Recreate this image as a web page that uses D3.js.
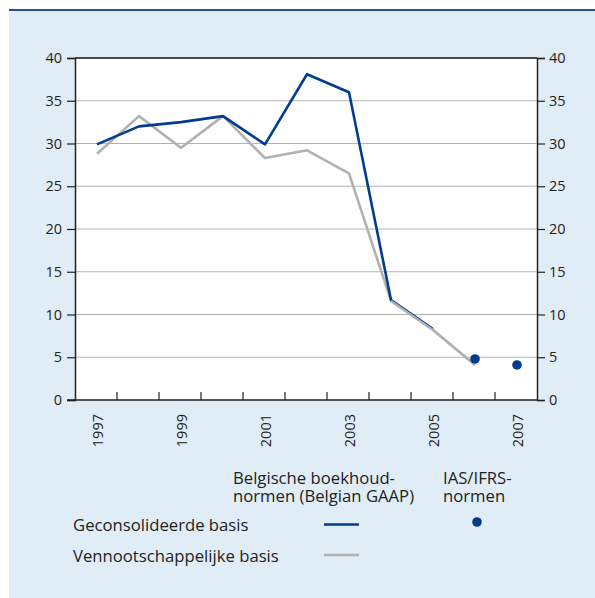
<!DOCTYPE html>
<html>
<head>
<meta charset="utf-8">
<script src="https://cdn.jsdelivr.net/npm/d3@7"></script>
<style>
  html, body { margin: 0; padding: 0; background: #ffffff; }
  svg { display: block; }
  text { font-family: "Open Sans", "Noto Sans", sans-serif; fill: #222; }
</style>
</head>
<body>
<script>
// Years on the horizontal axis
const years = [1997, 1998, 1999, 2000, 2001, 2002, 2003, 2004, 2005, 2006, 2007];
const yearLabels = [1997, 1999, 2001, 2003, 2005, 2007];
const yTicks = [0, 5, 10, 15, 20, 25, 30, 35, 40];

// Belgian GAAP, consolidated basis (1997–2005)
const consolidatedYears = [1997, 1998, 1999, 2000, 2001, 2002, 2003, 2004, 2005];
const consolidated = [29.9, 32.0, 32.5, 33.2, 29.9, 38.1, 36.0, 11.7, 8.3];

// Belgian GAAP, company (non-consolidated) basis (1997–2006)
const companyYears = [1997, 1998, 1999, 2000, 2001, 2002, 2003, 2004, 2005, 2006];
const company = [28.8, 33.2, 29.5, 33.2, 28.3, 29.2, 26.5, 11.6, 8.2, 4.1];

// IAS/IFRS, consolidated basis
const ifrsYears = [2006, 2007];
const ifrs = [4.8, 4.1];

const W = 595, H = 598;
const BLUE = "#003d8c", GREY = "#b1b1b1";

const svg = d3.select("body").append("svg").attr("width", W).attr("height", H);

// Panel background and top rule
svg.append("rect").attr("x", 9).attr("y", 10).attr("width", W - 9).attr("height", H - 10).attr("fill", "#e1edf6");
svg.append("rect").attr("x", 9).attr("y", 9).attr("width", W - 9).attr("height", 2).attr("fill", "#1e5294");

const pL = 75, pR = 537, pT = 58, pB = 400;

const x = d3.scaleBand().domain(years).range([pL, pR]);
const cx = d => x(d) + x.bandwidth() / 2 + 1;
const y = d3.scaleLinear().domain([0, 40]).range([pB, pT]);

// Plot area
svg.append("rect").attr("x", pL).attr("y", pT).attr("width", pR - pL).attr("height", pB - pT).attr("fill", "#fff");

// Gridlines
svg.append("g").selectAll("line").data(yTicks.filter(t => t > 0 && t < 40)).join("line")
  .attr("x1", pL).attr("x2", pR).attr("y1", d => y(d)).attr("y2", d => y(d))
  .attr("stroke", "#b3b3b3").attr("stroke-width", 1.2);

// Top border
svg.append("line").attr("x1", pL).attr("x2", pR).attr("y1", pT).attr("y2", pT)
  .attr("stroke", "#111").attr("stroke-width", 1.3);

// Left axis
const yAxisL = d3.axisLeft(y).tickValues(yTicks).tickSize(8).tickPadding(5);
const gL = svg.append("g").attr("transform", `translate(${pL},0)`).call(yAxisL);
// Right axis
const yAxisR = d3.axisRight(y).tickValues(yTicks).tickSize(8).tickPadding(4);
const gR = svg.append("g").attr("transform", `translate(${pR},0)`).call(yAxisR);
[gL, gR].forEach(g => {
  g.select(".domain").attr("stroke", "#222").attr("stroke-width", 1.5);
  g.selectAll(".tick line").attr("stroke", "#222").attr("stroke-width", 1.2);
  g.selectAll("text").style("font-size", "14.5px").style("font-family", '"Open Sans", sans-serif').attr("fill", "#222");
});

// Bottom axis with inward ticks at band boundaries
const gB = svg.append("g");
gB.append("line").attr("x1", pL - 8).attr("x2", pR).attr("y1", pB).attr("y2", pB)
  .attr("stroke", "#222").attr("stroke-width", 1.5);
gB.selectAll("line.tk").data(years.slice(1)).join("line").attr("class", "tk")
  .attr("x1", d => x(d)).attr("x2", d => x(d)).attr("y1", pB).attr("y2", pB - 8)
  .attr("stroke", "#222").attr("stroke-width", 1.2);
gB.selectAll("text").data(yearLabels).join("text")
  .attr("transform", d => `translate(${cx(d) + 6},${414}) rotate(-90)`)
  .attr("text-anchor", "end")
  .style("font-size", "14.5px")
  .text(d => d);

// Lines
const line = d3.line().x(d => cx(d[0])).y(d => y(d[1]));
svg.append("path").datum(companyYears.map((yr, i) => [yr, company[i]]))
  .attr("d", line).attr("fill", "none").attr("stroke", GREY).attr("stroke-width", 2.6).attr("stroke-linejoin", "round");
svg.append("path").datum(consolidatedYears.map((yr, i) => [yr, consolidated[i]]))
  .attr("d", line).attr("fill", "none").attr("stroke", BLUE).attr("stroke-width", 2.6).attr("stroke-linejoin", "round");
// Gray drawn over blue where they overlap after 2003
svg.append("path").datum(companyYears.map((yr, i) => [yr, company[i]]).slice(7))
  .attr("d", line).attr("fill", "none").attr("stroke", GREY).attr("stroke-width", 2.2);

// IFRS points
svg.append("g").selectAll("circle").data(ifrsYears.map((yr, i) => [yr, ifrs[i]])).join("circle")
  .attr("cx", d => cx(d[0])).attr("cy", d => y(d[1])).attr("r", 4.8).attr("fill", BLUE);

// Legend
const lg = svg.append("g").style("font-size", "16.7px");
function twoLines(xPos, yPos, lines) {
  const t = lg.append("text").attr("x", xPos).attr("y", yPos);
  lines.forEach((s, i) => t.append("tspan").attr("x", xPos).attr("dy", i === 0 ? 0 : 17.5).text(s));
}
twoLines(233, 484, ["Belgische boekhoud-", "normen (Belgian GAAP)"]);
twoLines(443, 484, ["IAS/IFRS-", "normen"]);
lg.append("text").attr("x", 73).attr("y", 531).text("Geconsolideerde basis");
lg.append("text").attr("x", 73).attr("y", 562).text("Vennootschappelijke basis");
lg.append("line").attr("x1", 324).attr("x2", 359).attr("y1", 524.5).attr("y2", 524.5).attr("stroke", BLUE).attr("stroke-width", 2.4);
lg.append("line").attr("x1", 324).attr("x2", 359).attr("y1", 555).attr("y2", 555).attr("stroke", GREY).attr("stroke-width", 2.4);
lg.append("circle").attr("cx", 477).attr("cy", 522).attr("r", 4.8).attr("fill", BLUE);
</script>
</body>
</html>
